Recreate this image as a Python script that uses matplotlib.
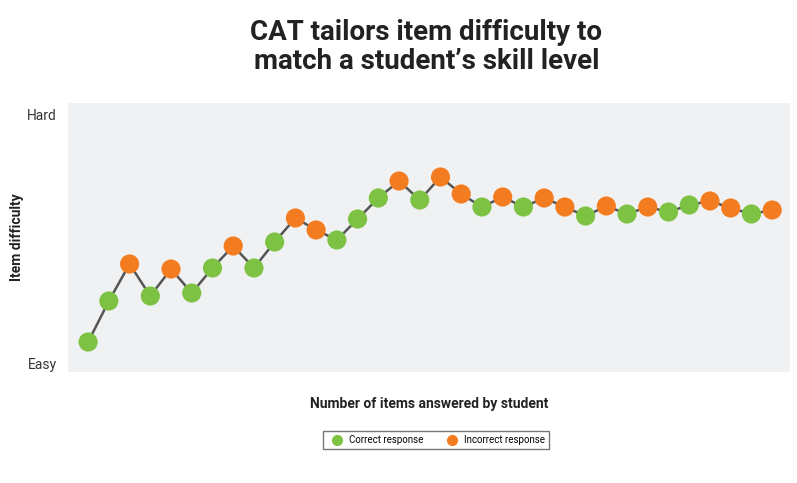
import matplotlib.pyplot as plt
from matplotlib.lines import Line2D

items = list(range(1, 35))
difficulty = [21, 62, 99, 67, 94, 70, 95, 117, 95, 121, 145, 133, 123, 144, 165, 182, 163, 186, 169, 156,
              166, 156, 165, 156, 147, 157, 149, 156, 151, 158, 162, 155, 149, 153]
correct = ['G','G','O','G','O','G','G','O','G','G','O','O','G','G','G','O','G','O','O','G',
           'O','G','O','O','G','O','G','O','G','G','O','O','G','O']
green, orange = '#7dc242', '#f47c20'

fig = plt.figure(figsize=(7.97, 4.83), dpi=100)
ax = fig.add_axes([68/797, 1-372/483, 722/797, 269/483])
ax.set_facecolor('#f0f1f2')
for s in ax.spines.values():
    s.set_visible(False)
ax.plot(items, difficulty, color='#555555', lw=1.8, zorder=1)
cols = [green if c == 'G' else orange for c in correct]
ax.scatter(items, difficulty, c=cols, s=190, zorder=2, edgecolors='none')
ax.set_xlim(0.03, 34.86)
ax.set_ylim(-9, 260)
ax.set_xticks([])
ax.set_yticks([0, 248])
ax.set_yticklabels(['Easy', 'Hard'], fontsize=10, color='#333333', family='Roboto')
ax.tick_params(axis='y', length=0, pad=8)
ax.set_ylabel('Item difficulty', fontsize=10, fontweight='bold', family='Roboto', color='#222222', labelpad=2)
ax.set_xlabel('Number of items answered by student', fontsize=10, fontweight='bold', family='Roboto',
              color='#222222', labelpad=18)
fig.text(0.535, 0.96, "CAT tailors item difficulty to\nmatch a student’s skill level", ha='center', va='top',
         fontsize=20, fontweight='heavy', family='Roboto', color='#222222', linespacing=1.1)
handles = [Line2D([], [], marker='o', ls='', color=green, markersize=7, label='Correct response'),
           Line2D([], [], marker='o', ls='', color=orange, markersize=7, label='Incorrect response')]
fig.legend(handles=handles, loc='center', bbox_to_anchor=(436/797, 1-440/483), ncol=2,
           frameon=True, fancybox=False, edgecolor='#555555', handletextpad=0.2, columnspacing=2,
           prop={'family': 'Roboto', 'size': 7})
fig.savefig('out.png', dpi=100)
